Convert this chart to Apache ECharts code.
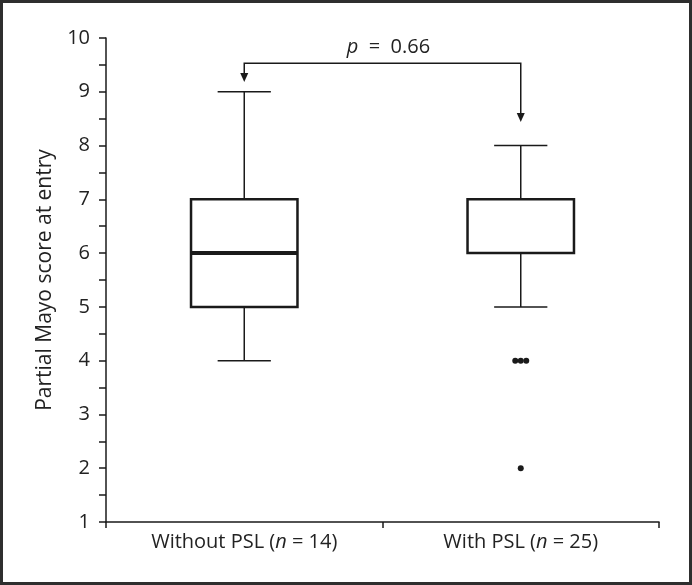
<!DOCTYPE html>
<html>
<head>
<meta charset="utf-8">
<script src="https://cdn.jsdelivr.net/npm/echarts@6/dist/echarts.min.js"></script>
<style>
  html, body { margin: 0; padding: 0; background: #fff; }
  #main { width: 692px; height: 585px; }
  #frame { position: absolute; left: 0; top: 0; width: 692px; height: 585px;
           box-sizing: border-box; border: 3px solid #2e2e2e; pointer-events: none; }
</style>
</head>
<body>
<div id="main"></div>
<div id="frame"></div>
<script>
// data
var categories = ['Without PSL (n = 14)', 'With PSL (n = 25)'];
var whiskerLow = [4, 5];
var q1 = [5, 6];
var median = [6, 6];
var q3 = [7, 7];
var whiskerHigh = [9, 8];
var outliers = [[1, 4], [1, 4], [1, 4], [1, 2]];
var pText = '0.66';
// bracket: [left cat, right cat, left tip, top, right tip, label]
var bracket = [[0, 1, 9.18, 9.53, 8.44, 9.83]];

var myChart = echarts.init(document.getElementById('main'));

var boxData = categories.map(function (c, i) {
    return [i, whiskerLow[i], q1[i], median[i], q3[i], whiskerHigh[i]];
});

// spread equal outliers side by side
var counts = {};
var outlierData = outliers.map(function (o) {
    var key = o[0] + '_' + o[1];
    counts[key] = (counts[key] || 0) + 1;
    return [o[0], o[1], counts[key] - 1];
});

var font = 'Open Sans, Noto Sans, sans-serif';
var txt = '#222';

var option = {
    animation: false,
    grid: { left: 106, right: 33, top: 38, bottom: 63 },
    xAxis: {
        type: 'category',
        data: categories,
        boundaryGap: true,
        axisLine: { lineStyle: { color: '#1a1a1a', width: 1.5 } },
        axisTick: { show: true, interval: 0, alignWithLabel: false, length: 6, lineStyle: { color: '#1a1a1a', width: 1.5 } },
        axisLabel: {
            interval: 0,
            color: txt, fontFamily: font, fontSize: 20, margin: 10,
            formatter: function (v) { return v.replace('(n =', '({i|n} ='); },
            rich: { i: { fontStyle: 'italic', color: txt, fontFamily: font, fontSize: 20 } }
        },
        splitLine: { show: false }
    },
    yAxis: {
        type: 'value',
        min: 1, max: 10, interval: 1,
        name: 'Partial Mayo score at entry',
        nameLocation: 'middle',
        nameGap: 50,
        nameTextStyle: { color: txt, fontFamily: font, fontSize: 21 },
        axisLine: { show: true, lineStyle: { color: '#1a1a1a', width: 1.5 } },
        axisTick: { show: true, length: 7, lineStyle: { color: '#1a1a1a', width: 1.5 } },
        minorTick: { show: true, splitNumber: 2, length: 7, lineStyle: { color: '#1a1a1a', width: 1.5 } },
        axisLabel: { color: txt, fontFamily: font, fontSize: 20, margin: 16 },
        splitLine: { show: false }
    },
    series: [
        {
            type: 'custom',
            data: boxData,
            encode: { x: 0, y: [1, 2, 3, 4, 5] },
            renderItem: function (params, api) {
                var x = api.value(0);
                var band = api.size([1, 0])[0];
                var w = band * 0.385;
                var pLow = api.coord([x, api.value(1)]);
                var pQ1 = api.coord([x, api.value(2)]);
                var pMed = api.coord([x, api.value(3)]);
                var pQ3 = api.coord([x, api.value(4)]);
                var pHigh = api.coord([x, api.value(5)]);
                var cx = pLow[0];
                var line = { stroke: '#1a1a1a', lineWidth: 1.5 };
                var kids = [
                    { type: 'line', shape: { x1: cx, y1: pHigh[1], x2: cx, y2: pQ3[1] }, style: line },
                    { type: 'line', shape: { x1: cx, y1: pQ1[1], x2: cx, y2: pLow[1] }, style: line },
                    { type: 'line', shape: { x1: cx - w / 4, y1: pHigh[1], x2: cx + w / 4, y2: pHigh[1] }, style: line },
                    { type: 'line', shape: { x1: cx - w / 4, y1: pLow[1], x2: cx + w / 4, y2: pLow[1] }, style: line },
                    { type: 'rect', shape: { x: cx - w / 2, y: pQ3[1], width: w, height: pQ1[1] - pQ3[1] },
                      style: { fill: '#fff', stroke: '#1a1a1a', lineWidth: 2.5 } }
                ];
                if (api.value(3) > api.value(2) && api.value(3) < api.value(4)) {
                    kids.push({ type: 'line', shape: { x1: cx - w / 2, y1: pMed[1], x2: cx + w / 2, y2: pMed[1] },
                                style: { stroke: '#1a1a1a', lineWidth: 4 } });
                }
                return { type: 'group', children: kids };
            },
            z: 2
        },
        {
            type: 'custom',
            data: outlierData,
            encode: { x: 0, y: 1 },
            renderItem: function (params, api) {
                var n = counts[api.value(0) + '_' + api.value(1)];
                var k = api.value(2);
                var p = api.coord([api.value(0), api.value(1)]);
                var dx = (k - (n - 1) / 2) * 5.5;
                return { type: 'circle', shape: { cx: p[0] + dx, cy: p[1], r: 3 }, style: { fill: '#1a1a1a' } };
            },
            z: 3
        },
        {
            type: 'custom',
            data: bracket,
            encode: { x: [0, 1], y: [2, 3, 4, 5] },
            renderItem: function (params, api) {
                var a = api.value(0), b = api.value(1);
                var tl = api.coord([a, api.value(2)]);
                var tpl = api.coord([a, api.value(3)]);
                var tpr = api.coord([b, api.value(3)]);
                var tr = api.coord([b, api.value(4)]);
                var lab = api.coord([(a + b) / 2, api.value(5)]);
                var midX = (tpl[0] + tpr[0]) / 2;
                var ah = 9, aw = 4;
                var line = { stroke: '#1a1a1a', lineWidth: 1.5, fill: null };
                return {
                    type: 'group',
                    children: [
                        { type: 'polyline', shape: { points: [[tl[0], tl[1] - ah + 1], tpl, tpr, [tr[0], tr[1] - ah + 1]] }, style: line },
                        { type: 'polygon', shape: { points: [[tl[0] - aw, tl[1] - ah], [tl[0] + aw, tl[1] - ah], tl] }, style: { fill: '#1a1a1a' } },
                        { type: 'polygon', shape: { points: [[tr[0] - aw, tr[1] - ah], [tr[0] + aw, tr[1] - ah], tr] }, style: { fill: '#1a1a1a' } },
                        { type: 'text', x: midX + 6, y: lab[1],
                          style: { text: '{i|p}  =  ' + pText, fill: txt, font: '20px ' + font,
                                   align: 'center', verticalAlign: 'middle',
                                   rich: { i: { fontStyle: 'italic', fontFamily: font, fontSize: 20, fill: txt } } } }
                    ]
                };
            },
            z: 4
        }
    ]
};

myChart.setOption(option);
</script>
</body>
</html>
